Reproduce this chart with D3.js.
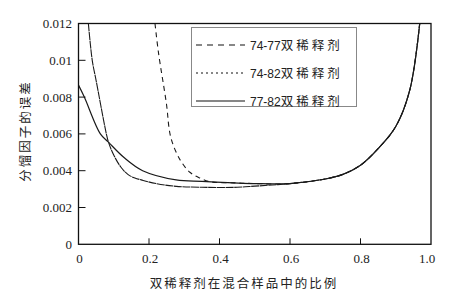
<!DOCTYPE html>
<html>
<head>
<meta charset="utf-8">
<script src="https://cdn.jsdelivr.net/npm/d3@7"></script>
<style>
    body { margin: 0; background: #fff; }
    svg { display: block; }
</style>
</head>
<body>
<div id="chart"></div>
<script>
// ========================
// Data
// ========================
const ratio7477 = [0.217, 0.227, 0.249, 0.262, 0.288, 0.317, 0.345, 0.373, 0.44, 0.5, 0.6, 0.7, 0.75, 0.8, 0.85, 0.9, 0.94, 0.968];
const err7477   = [0.012, 0.0104, 0.0077, 0.0058, 0.0046, 0.0039, 0.0036, 0.0034, 0.00334, 0.0033, 0.0033, 0.00355, 0.0038, 0.0043, 0.0052, 0.0064, 0.0084, 0.012];

const ratio7482 = [0.028, 0.039, 0.05, 0.079, 0.085, 0.1, 0.12, 0.14, 0.16, 0.178, 0.22, 0.277, 0.35, 0.45, 0.5, 0.6, 0.7, 0.75, 0.8, 0.85, 0.9, 0.94, 0.968];
const err7482   = [0.012, 0.010, 0.0089, 0.006, 0.00555, 0.00485, 0.0042, 0.0038, 0.0036, 0.0035, 0.0033, 0.00315, 0.0031, 0.0031, 0.00316, 0.0033, 0.00355, 0.0038, 0.0043, 0.0052, 0.0064, 0.0084, 0.012];

const ratio7782 = [0, 0.0165, 0.062, 0.085, 0.13, 0.182, 0.277, 0.35, 0.44, 0.5, 0.6, 0.7, 0.75, 0.8, 0.85, 0.9, 0.94, 0.968];
const err7782   = [0.00865, 0.008, 0.006, 0.00555, 0.0047, 0.004, 0.0035, 0.00342, 0.00334, 0.0033, 0.0033, 0.00355, 0.0038, 0.0043, 0.0052, 0.0064, 0.0084, 0.012];

const seriesNames = ["74-77", "74-82", "77-82"];
const xTicks = [0, 0.2, 0.4, 0.6, 0.8, 1.0];
const xTickLabels = ["0", "0.2", "0.4", "0.6", "0.8", "1.0"];
const yTicks = [0, 0.002, 0.004, 0.006, 0.008, 0.01, 0.012];
const yTickLabels = ["0", "0.002", "0.004", "0.006", "0.008", "0.01", "0.012"];

// ========================
// Setup
// ========================
const width = 454, height = 299;
const margin = { left: 78.5, right: 23, top: 23.5, bottom: 54.7 };

const x = d3.scaleLinear().domain([0, 1]).range([margin.left, width - margin.right]);
const y = d3.scaleLinear().domain([0, 0.012]).range([height - margin.bottom, margin.top]);

const svg = d3.select("#chart").append("svg")
    .attr("width", width)
    .attr("height", height);

svg.append("defs").append("clipPath").attr("id", "plotClip")
    .append("rect")
    .attr("x", x(0)).attr("y", y(0.012))
    .attr("width", x(1) - x(0)).attr("height", y(0) - y(0.012));

const line = d3.line()
    .x(d => x(d[0]))
    .y(d => y(d[1]))
    .curve(d3.curveCatmullRom.alpha(0.5));

const series = [
    { name: seriesNames[0], pts: d3.zip(ratio7477, err7477), dash: "5,4", width: 1.1 },
    { name: seriesNames[1], pts: d3.zip(ratio7482, err7482), dash: "8,0.6", width: 1.1 },
    { name: seriesNames[2], pts: d3.zip(ratio7782, err7782), dash: null, width: 1.2 }
];

// ========================
// Curves
// ========================
svg.append("g").attr("clip-path", "url(#plotClip)")
    .selectAll("path")
    .data(series)
    .join("path")
    .attr("fill", "none")
    .attr("stroke", "#1a1a1a")
    .attr("stroke-width", d => d.width)
    .attr("stroke-dasharray", d => d.dash)
    .attr("d", d => line(d.pts));

// ========================
// Frame + ticks (inward)
// ========================
svg.append("rect")
    .attr("x", x(0)).attr("y", y(0.012))
    .attr("width", x(1) - x(0)).attr("height", y(0) - y(0.012))
    .attr("fill", "none")
    .attr("stroke", "#111")
    .attr("stroke-width", 1.3);

svg.append("g").selectAll("line")
    .data(xTicks.slice(1, -1))
    .join("line")
    .attr("x1", d => x(d)).attr("x2", d => x(d))
    .attr("y1", y(0)).attr("y2", y(0) - 6)
    .attr("stroke", "#111").attr("stroke-width", 1);

svg.append("g").selectAll("line")
    .data(yTicks.slice(1, -1))
    .join("line")
    .attr("x1", x(0)).attr("x2", x(0) + 7)
    .attr("y1", d => y(d)).attr("y2", d => y(d))
    .attr("stroke", "#111").attr("stroke-width", 1);

const tickFont = "'Liberation Serif', 'DejaVu Serif', serif";

svg.append("g").selectAll("text")
    .data(xTicks)
    .join("text")
    .attr("x", d => x(d) + (d === 1 ? -4 : 1))
    .attr("y", y(0) + 19)
    .attr("text-anchor", "middle")
    .style("font-family", tickFont)
    .style("font-size", "13px")
    .attr("fill", "#222")
    .text((d, i) => xTickLabels[i]);

svg.append("g").selectAll("text")
    .data(yTicks)
    .join("text")
    .attr("x", x(0) - 6.5)
    .attr("y", d => y(d) + 4.5)
    .attr("text-anchor", "end")
    .style("font-family", tickFont)
    .style("font-size", "13px")
    .attr("fill", "#222")
    .text((d, i) => yTickLabels[i]);

// ========================
// Axis titles
// ========================
const cjkFont = "'Noto Sans CJK SC', sans-serif";

svg.append("text")
    .attr("x", 244)
    .attr("y", 288)
    .attr("text-anchor", "middle")
    .style("font-family", cjkFont)
    .style("font-size", "12.5px")
    .style("letter-spacing", "2px")
    .attr("fill", "#222")
    .text("双稀释剂在混合样品中的比例");

svg.append("text")
    .attr("transform", "translate(30, 131) rotate(-90)")
    .attr("text-anchor", "middle")
    .style("font-family", cjkFont)
    .style("font-size", "12.5px")
    .style("letter-spacing", "2px")
    .attr("fill", "#222")
    .text("分馏因子的误差");

// ========================
// Legend
// ========================
const legend = svg.append("g");
legend.append("rect")
    .attr("x", 191.5).attr("y", 27.5)
    .attr("width", 165).attr("height", 79)
    .attr("fill", "#fff")
    .attr("stroke", "#888")
    .attr("stroke-width", 1);

const legendDash = ["6,5", "2,3", null];
const rows = legend.selectAll("g.row")
    .data(series)
    .join("g")
    .attr("class", "row")
    .attr("transform", (d, i) => `translate(0, ${45 + i * 28})`);

rows.append("line")
    .attr("x1", 196).attr("x2", 245)
    .attr("y1", 0).attr("y2", 0)
    .attr("stroke", "#111")
    .attr("stroke-width", 1.1)
    .attr("stroke-dasharray", (d, i) => legendDash[i]);

const label = rows.append("text")
    .attr("x", 250)
    .attr("y", 4.5)
    .attr("fill", "#222");

label.append("tspan")
    .style("font-family", "'Liberation Sans', Arial, sans-serif")
    .style("font-size", "12px")
    .text(d => d.name);

label.append("tspan")
    .style("font-family", cjkFont)
    .style("font-size", "12.5px")
    .style("letter-spacing", "3px")
    .text("双稀释剂");
</script>
</body>
</html>
